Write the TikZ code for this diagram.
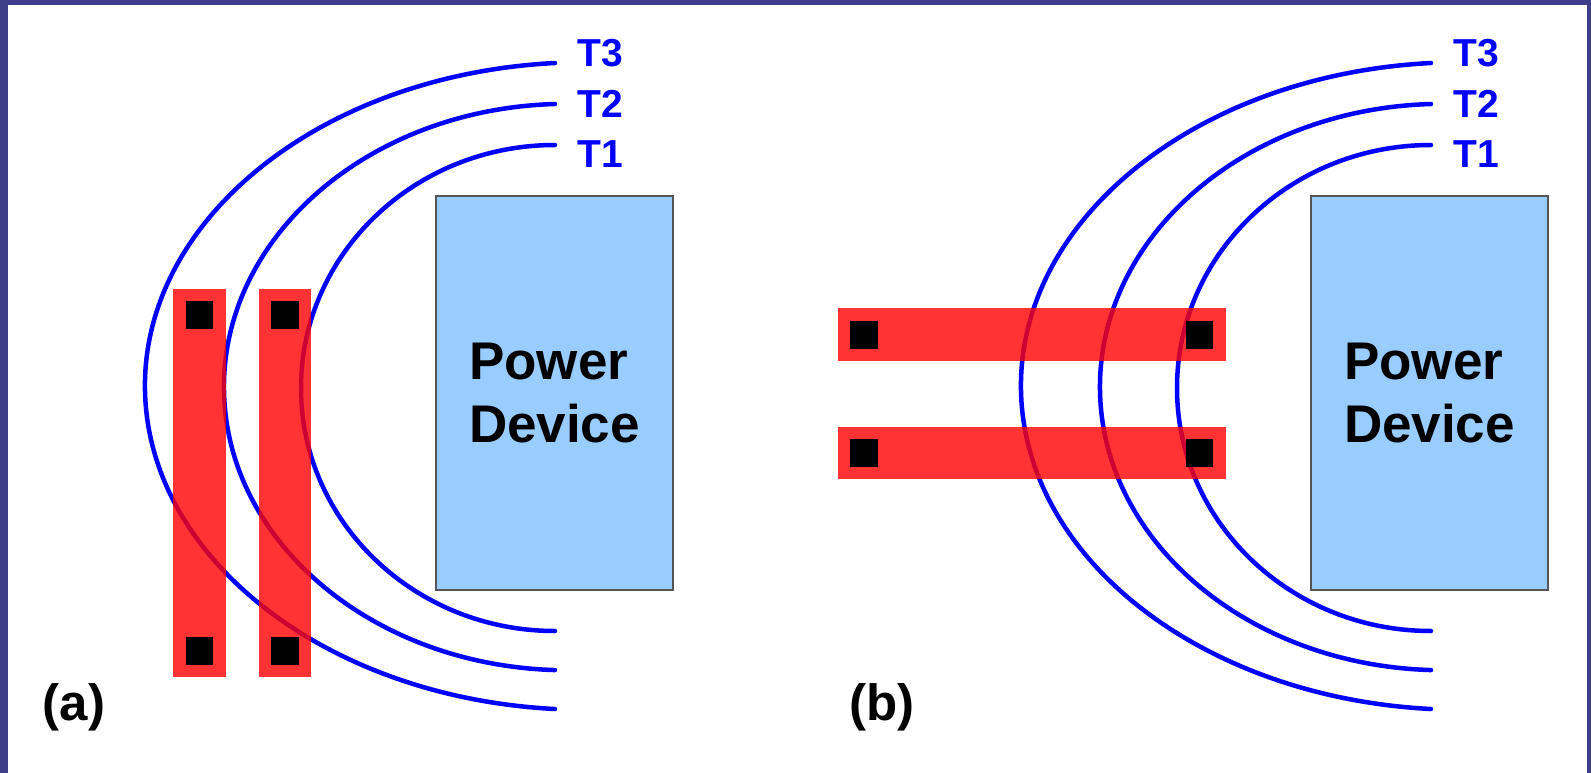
\documentclass[tikz,border=0pt]{standalone}
\usepackage{fontspec}
\setmainfont{Liberation Sans}
\definecolor{framecol}{RGB}{62,62,138}
\definecolor{devfill}{RGB}{153,204,255}
\definecolor{devline}{RGB}{85,85,85}
\definecolor{tblue}{RGB}{0,0,255}
\definecolor{barred}{RGB}{255,0,0}
\begin{document}
\begin{tikzpicture}[x=1pt,y=-1pt,
  trace/.style={draw=tblue, line width=4.5pt, line cap=round},
  bar/.style={fill=barred, fill opacity=0.8, draw=none},
  pad/.style={fill=black, draw=none},
  device/.style={draw=devline, line width=1.5pt, fill=devfill},
  tlabel/.style={text=tblue, font=\fontsize{39}{47}\selectfont\bfseries, inner sep=0pt, anchor=west},
  devlabel/.style={font=\fontsize{53}{63}\selectfont\bfseries, align=left, inner sep=0pt},
  plabel/.style={font=\fontsize{51}{60}\selectfont\bfseries, inner sep=0pt}]
\useasboundingbox (0,0) rectangle (1591,773);
\fill[white] (0,0) rectangle (1591,773);
% frame
\fill[framecol] (0,0) rectangle (8,773);
\fill[framecol] (0,0) rectangle (1591,5);
\fill[framecol] (1587,0) rectangle (1591,773);

% ---------- panel (a) ----------
\coordinate (a1) at (555,145);
\coordinate (a2) at (555,104);
\coordinate (a3) at (555,63);
\draw[trace] (a1) arc[start angle=270, end angle=90, x radius=254, y radius=243];
\draw[trace] (a2) arc[start angle=268, end angle=92, x radius=343, y radius=283.2];
\draw[trace] (a3) arc[start angle=266, end angle=94, x radius=440.8, y radius=323.8];
\node[tlabel] (la3) at (577,53) {T3};
\node[tlabel] (la2) at (577,104) {T2};
\node[tlabel] (la1) at (577,154) {T1};

\path[device] (436,196) rectangle (673,590);
\node[devlabel] (deva) at (554.5,393) {Power\\Device};

\fill[bar] (173,289) rectangle (226,677);
\fill[bar] (259,289) rectangle (311,677);
\fill[pad] (186,301) rectangle (213,329);
\fill[pad] (186,637) rectangle (213,665);
\fill[pad] (271,301) rectangle (299,329);
\fill[pad] (271,637) rectangle (299,665);
\node[plabel] (capa) at (74,707) {(a)};

% ---------- panel (b) ----------
\coordinate (b1) at (1431,145);
\coordinate (b2) at (1431,104);
\coordinate (b3) at (1431,63);
\draw[trace] (b1) arc[start angle=270, end angle=90, x radius=254, y radius=243];
\draw[trace] (b2) arc[start angle=268, end angle=92, x radius=343, y radius=283.2];
\draw[trace] (b3) arc[start angle=266, end angle=94, x radius=440.8, y radius=323.8];
\node[tlabel] (lb3) at (1453,53) {T3};
\node[tlabel] (lb2) at (1453,104) {T2};
\node[tlabel] (lb1) at (1453,154) {T1};

\path[device] (1311,196) rectangle (1548,590);
\node[devlabel] (devb) at (1429.5,393) {Power\\Device};

\fill[bar] (838,308) rectangle (1226,361);
\fill[bar] (838,427) rectangle (1226,479);
\fill[pad] (850,321) rectangle (878,349);
\fill[pad] (1186,321) rectangle (1213,349);
\fill[pad] (850,439) rectangle (878,467);
\fill[pad] (1186,439) rectangle (1213,467);
\node[plabel] (capb) at (882,707) {(b)};
\end{tikzpicture}
\end{document}
